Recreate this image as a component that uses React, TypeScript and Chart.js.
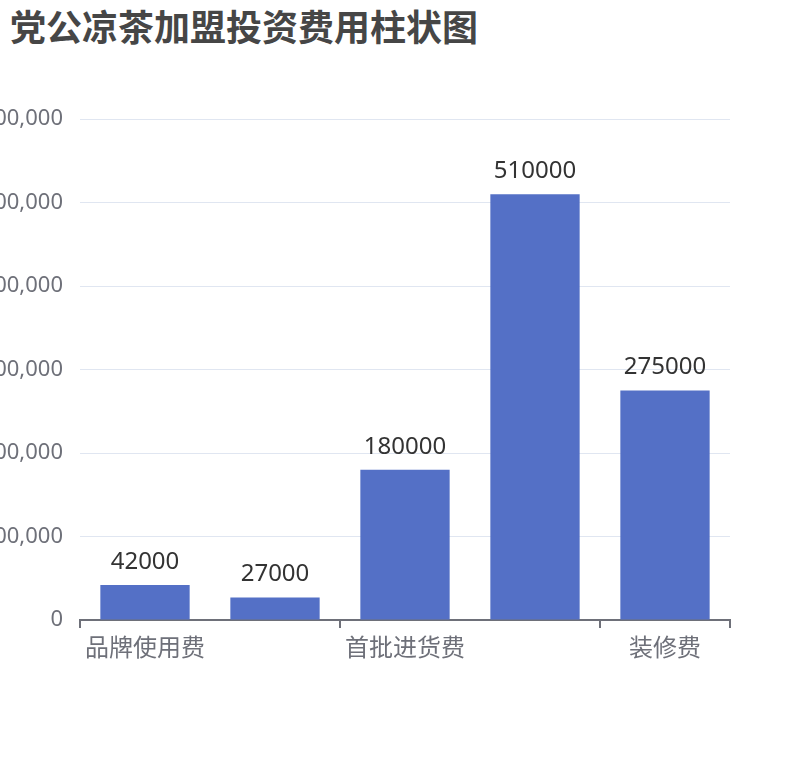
import React, { useEffect, useRef } from "react";
import { Chart, registerables } from "chart.js";

Chart.register(...registerables);

const TITLE = "党公凉茶加盟投资费用柱状图";
const categories = ["品牌使用费", "加盟费", "首批进货费", "店面租金", "装修费"];
const values = [42000, 27000, 180000, 510000, 275000];
const yMax = 600000;
const yStep = 100000;

const FONT = "'Noto Sans', 'Noto Sans CJK SC', sans-serif";

const barLabels = {
  id: "barLabels",
  afterDatasetsDraw(chart: any) {
    const ctx = chart.ctx;
    const meta = chart.getDatasetMeta(0);
    ctx.save();
    ctx.font = `24px ${FONT}`;
    ctx.fillStyle = "#333333";
    ctx.textAlign = "center";
    ctx.textBaseline = "alphabetic";
    meta.data.forEach((el: any, i: number) => {
      ctx.fillText(String(values[i]), el.x, el.y - 16);
    });
    ctx.restore();
  },
};

export default function App() {
  const ref = useRef<HTMLCanvasElement | null>(null);
  useEffect(() => {
    if (!ref.current) return;
    const chart = new Chart(ref.current, {
      type: "bar",
      data: {
        labels: categories,
        datasets: [
          {
            data: values,
            backgroundColor: "#5470c6",
            barPercentage: 0.687,
            categoryPercentage: 1,
          },
        ],
      },
      options: {
        animation: false,
        responsive: false,
        maintainAspectRatio: false,
        layout: { padding: { top: 119, right: 80, bottom: 0, left: 0 } },
        plugins: { legend: { display: false }, tooltip: { enabled: false }, title: { display: false } },
        scales: {
          x: {
            offset: true,
            afterFit: (s: any) => {
              s.height = 140;
            },
            border: { display: true, color: "#6E7079", width: 2 },
            grid: {
              offset: true,
              drawOnChartArea: false,
              drawTicks: true,
              tickLength: 8,
              lineWidth: 2,
              color: (c: any) =>
                c.index === undefined || c.index % 2 === 0 ? "#6E7079" : "rgba(0,0,0,0)",
            },
            ticks: {
              autoSkip: false,
              maxRotation: 0,
              padding: 7,
              color: "#6E7079",
              font: { size: 24, family: FONT },
              callback: (v: any, i: number) => (i % 2 === 0 ? categories[i] : ""),
            },
          },
          y: {
            min: 0,
            max: yMax,
            afterFit: (s: any) => {
              s.width = 110;
            },
            border: { display: false },
            grid: { color: "#E0E6F1", drawTicks: false, lineWidth: 1 },
            ticks: {
              stepSize: yStep,
              padding: 17,
              color: "#6E7079",
              font: { size: 22, family: FONT },
              callback: (v: any) => Number(v).toLocaleString("en-US"),
            },
          },
        },
      },
      plugins: [barLabels],
    });
    return () => chart.destroy();
  }, []);

  return (
    <div style={{ position: "fixed", left: 0, top: 0, width: 810, height: 760, overflow: "hidden", background: "#fff" }}>
      <div
        style={{
          position: "absolute",
          left: 10,
          top: 2,
          fontFamily: "'Noto Sans CJK SC', sans-serif",
          fontWeight: 700,
          fontSize: 36,
          lineHeight: "46px",
          color: "#464646",
          whiteSpace: "nowrap",
        }}
      >
        {TITLE}
      </div>
      <canvas
        ref={ref}
        width={840}
        height={760}
        style={{ position: "absolute", left: -30, top: 0, width: 840, height: 760 }}
      />
    </div>
  );
}
